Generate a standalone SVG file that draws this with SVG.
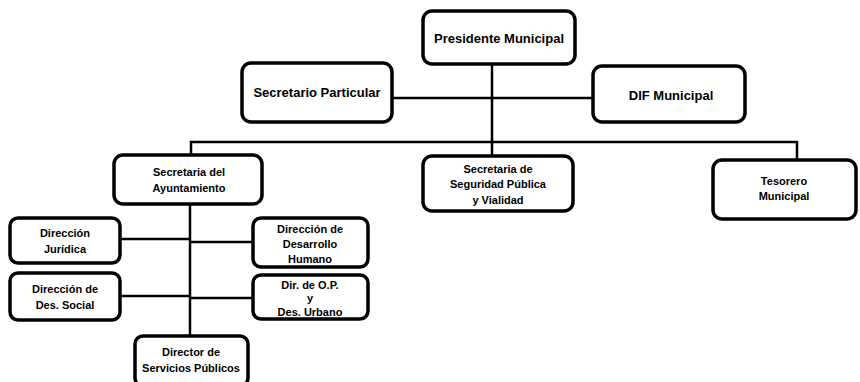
<svg xmlns="http://www.w3.org/2000/svg" width="860" height="382" viewBox="0 0 860 382">
<style>
.box{fill:#fff;stroke:#000;stroke-width:3.5}
.ln{fill:none;stroke:#000;stroke-width:2.5}
text{font-family:"Liberation Sans",Arial,sans-serif;font-weight:bold;font-size:11px;fill:#000;text-anchor:middle}
.big{font-size:13px}
</style>
<rect width="860" height="382" fill="#fff"/>
<g id="connectors">
<path class="ln" d="M492 64V157"/>
<path class="ln" d="M392 98H593"/>
<path class="ln" d="M191 155V142H797V160"/>
<path class="ln" d="M190 203V335"/>
<path class="ln" d="M120 239H190"/>
<path class="ln" d="M120 296H190"/>
<path class="ln" d="M190 242H253"/>
<path class="ln" d="M190 298H253"/>
</g>
<g id="presidente"><rect class="box" x="423" y="11" width="152" height="53" rx="9"/><text class="big" x="499" y="43">Presidente Municipal</text></g>
<g id="particular"><rect class="box" x="242" y="63" width="150" height="59" rx="9"/><text class="big" x="317" y="97">Secretario Particular</text></g>
<g id="dif"><rect class="box" x="593" y="66" width="152" height="56" rx="9"/><text class="big" x="671" y="100">DIF Municipal</text></g>
<g id="ayuntamiento"><rect class="box" x="114" y="155" width="148" height="49" rx="9"/><text x="189" y="176">Secretaria del</text><text x="189" y="192">Ayuntamiento</text></g>
<g id="seguridad"><rect class="box" x="423" y="156" width="150" height="55" rx="9"/><text x="498" y="173">Secretaria de</text><text x="498" y="188">Seguridad Pública</text><text x="498" y="204">y Vialidad</text></g>
<g id="tesorero"><rect class="box" x="713" y="160" width="143" height="59" rx="9"/><text x="784" y="185">Tesorero</text><text x="784" y="200">Municipal</text></g>
<g id="juridica"><rect class="box" x="10" y="218" width="110" height="45" rx="8"/><text x="65" y="237">Dirección</text><text x="65" y="253">Jurídica</text></g>
<g id="social"><rect class="box" x="10" y="273" width="110" height="47" rx="8"/><text x="65" y="293">Dirección de</text><text x="65" y="309">Des. Social</text></g>
<g id="humano"><rect class="box" x="253" y="218" width="115" height="49" rx="8"/><text x="310" y="233">Dirección de</text><text x="310" y="248">Desarrollo</text><text x="310" y="263">Humano</text></g>
<g id="obras"><rect class="box" x="253" y="275" width="115" height="44" rx="8"/><text x="310" y="289">Dir. de O.P.</text><text x="310" y="302">y</text><text x="310" y="316">Des. Urbano</text></g>
<g id="servicios"><rect class="box" x="135" y="336" width="113" height="50" rx="8"/><text x="191" y="356" font-size="10">Director de</text><text x="191" y="372" font-size="10">Servicios Públicos</text></g>
</svg>
